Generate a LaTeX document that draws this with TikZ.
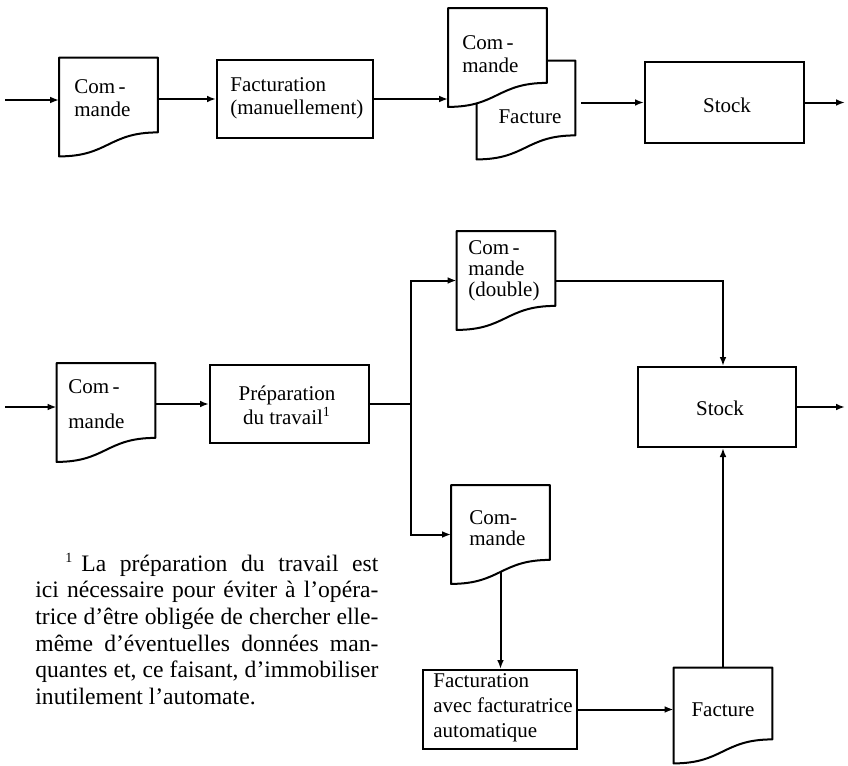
\documentclass[tikz,border=0pt]{standalone}
\usepackage{fontspec}
\setmainfont{Liberation Serif}
\usetikzlibrary{arrows.meta,calc}

% document symbol: straight top and sides, wavy bottom edge
\newcommand{\docoutline}[1]{%
  \draw[docline] (#1.south west) -- (#1.north west) -- (#1.north east)
    -- ([yshift=12pt]#1.south east)
    .. controls ([yshift=12pt]#1.south) and (#1.south) .. (#1.south west) -- cycle;}

\begin{document}
\begin{tikzpicture}[x=0.5pt,y=-0.5pt,
  box/.style={draw, line width=1pt, inner sep=0pt},
  doc/.style={minimum width=49pt, minimum height=49pt, inner sep=0pt},
  docline/.style={line width=1pt, fill=white, line join=round},
  lbl/.style={font=\fontsize{10.5}{11.5}\selectfont, align=left, inner sep=0pt},
  flow/.style={line width=1pt, -{Latex[length=4.5pt,width=3.4pt]}},
  plain/.style={line width=1pt}]

\useasboundingbox[fill=white] (0,0) rectangle (848,766);

% ---------- manual invoicing ----------
\coordinate (in1) at (5,100);
\node[doc] (d1) at (108.5,107) {};
\docoutline{d1}
\node[lbl, anchor=west] (d1t) at (74,98.5) {Com\,-\\mande};

\node[box, minimum width=78pt, minimum height=39pt] (f1) at (295,99) {};
\node[lbl, anchor=west] (f1t) at (230,98.5) {Facturation\\(manuellement)};

\node[doc] (ff) at (526,110) {};
\docoutline{ff}
\node[doc] (cf) at (497.5,57.5) {};
\docoutline{cf}
\node[lbl, anchor=west] (cft) at (462,54) {Com\,-\\mande};
\node[lbl] (fft) at (530,117) {Facture};

\node[box, minimum width=79.5pt, minimum height=40.5pt] (st1) at (724.5,102.5) {};
\node[lbl] (st1t) at (727,105) {Stock};
\coordinate (out1) at (845,102.5);

\draw[flow] (in1) -- (in1 -| d1.west);
\draw[flow] (f1.west -| d1.east) -- (f1.west);
\draw[flow] (f1.east) -- (f1.east -| cf.west);
\draw[flow, shorten <=3pt] (st1.west -| ff.east) -- (st1.west);
\draw[flow] (st1.east) -- (out1);

% ---------- invoicing with automatic machine ----------
\coordinate (in2) at (5,407);
\node[doc] (e1) at (106,412.5) {};
\docoutline{e1}
\node[lbl, anchor=west, font=\fontsize{10.5}{17.5}\selectfont] (e1t) at (68,404.5) {Com\,-\\mande};

\node[box, minimum width=79.5pt, minimum height=39pt] (prep) at (289.5,404) {};
\node[lbl, align=center, font=\fontsize{10.5}{12}\selectfont] (prept) at (287,405) {Préparation\\du travail\textsuperscript{\scriptsize 1}};

\node[doc] (cd) at (506,280.5) {};
\docoutline{cd}
\node[lbl, anchor=west, font=\fontsize{10.5}{10.5}\selectfont] (cdt) at (468,271) {Com\,-\\mande\\(double)};

\node[doc] (c2) at (500.5,534.5) {};
\docoutline{c2}
\node[lbl, anchor=west, font=\fontsize{10.5}{10.5}\selectfont] (c2t) at (469,528) {Com-\\mande};

\node[box, minimum width=79pt, minimum height=40pt] (st2) at (717,407) {};
\node[lbl] (st2t) at (720,408) {Stock};
\coordinate (out2) at (845,407);

\node[box, minimum width=77pt, minimum height=39.5pt] (fauto) at (500,709.5) {};
\node[lbl, anchor=west, font=\fontsize{10.5}{12.5}\selectfont] (fat) at (433,708) {Facturation\\avec facturatrice\\automatique};

\node[doc, minimum height=47.5pt] (fb) at (723,715.5) {};
\docoutline{fb}
\node[lbl] (fbt) at (723,710) {Facture};

\coordinate (br) at (411,404);

\draw[flow] (in2) -- (in2 -| e1.west);
\draw[flow] (prep.west -| e1.east) -- (prep.west);
\draw[plain] (prep.east) -- (br);
\draw[flow] (br) |- (cd.west);
\draw[flow] (br) |- (c2.west);
\draw[flow] (cd.east) -| (fb.north |- st2.north);
\draw[flow] (st2.east) -- (out2);
\draw[flow] ([yshift=6pt]c2.south) -- (c2.south |- fauto.north);
\draw[flow] (fauto.east) -- (fauto.east -| fb.west);
\draw[flow] (fb.north) -- (fb.north |- st2.south);

% ---------- footnote ----------
\node[anchor=north west, inner sep=0pt, text width=171.5pt, align=justify,
      font=\fontsize{11.8}{13.3}\selectfont] (note) at (35,553)
  {\tolerance=10000\hspace*{15pt}\hbox{\textsuperscript{\scriptsize 1}\hspace{4pt}La} préparation du travail est\linebreak
   ici nécessaire pour éviter à l’opéra-\linebreak
   trice d’être obligée de chercher elle-\linebreak
   même d’éventuelles données man-\linebreak
   quantes et, ce faisant, d’immobiliser\linebreak
   inutilement l’automate.};
\end{tikzpicture}
\end{document}
